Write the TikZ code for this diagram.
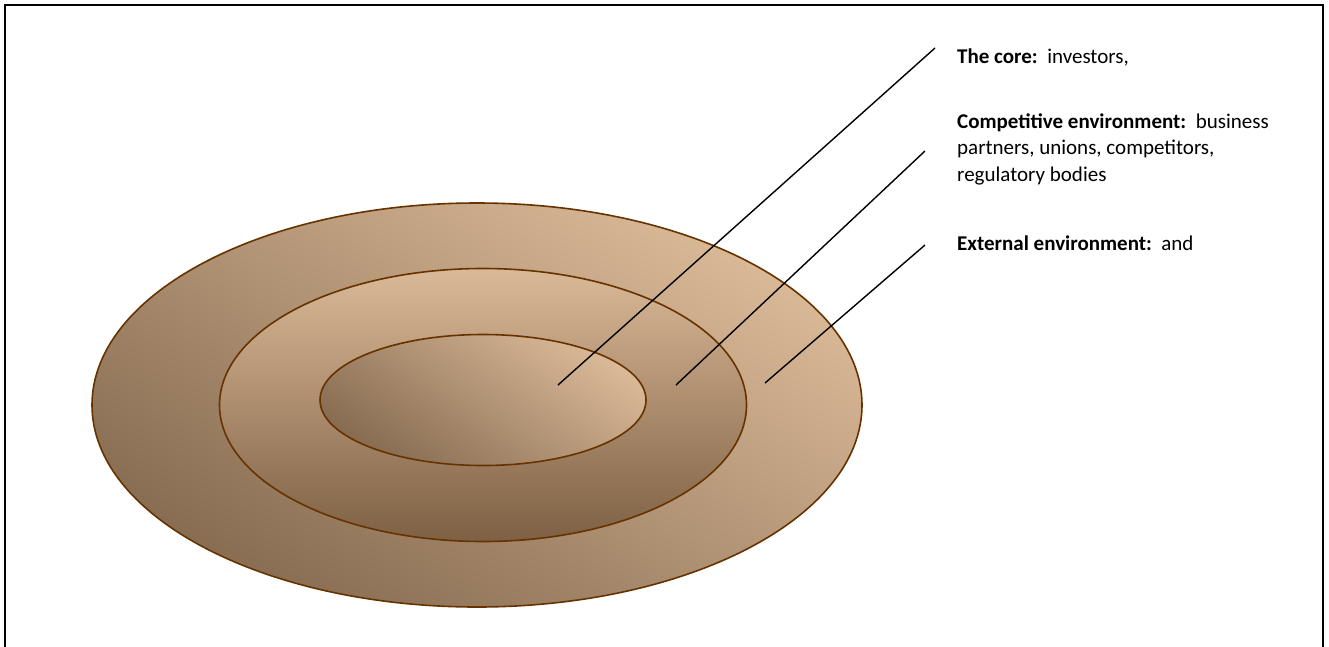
\documentclass[tikz,border=0pt]{standalone}
\usepackage{fontspec}
\setmainfont{Carlito}
\usetikzlibrary{shapes.geometric}
\definecolor{rimbrown}{RGB}{102,51,0}
\definecolor{tanlight}{RGB}{218,185,151}
\definecolor{tandark}{RGB}{135,108,82}
\definecolor{tandeep}{RGB}{126,96,68}

\begin{document}
\begin{tikzpicture}[
      x=1pt,y=-1pt,
      ring/.style={ellipse,draw=rimbrown,line width=1.6pt,inner sep=0pt},
      tagtext/.style={anchor=base west,inner sep=0pt,align=left,
                    font=\fontsize{21}{26.5}\selectfont},
      leader/.style={draw=black,line width=1.4pt}
    ]
    \useasboundingbox (0,0) rectangle (1329,646);
    \draw[line width=2pt] (5,660) -- (5,5) -- (1323,5) -- (1323,660);

    % the three rings
    \node[ring,minimum width=770,minimum height=404,
          top color=tanlight,bottom color=tandark,shading angle=-32]
          (outer) at (477,405) {};
    \node[ring,minimum width=527,minimum height=273,
          top color=tanlight,bottom color=tandeep]
          (middle) at (483,405) {};
    \node[ring,minimum width=326,minimum height=131,
          top color=tanlight,bottom color=tandark,shading angle=-35]
          (inner) at (483,400) {};

    % texts
    \node[tagtext] (core) at (957,63) {\textbf{The core:}\ \ investors,};
    \node[tagtext] (comp) at (957,181) {\textbf{Competitive environment:}\ \ business\\
      partners, unions, competitors,\\regulatory bodies};
    \node[tagtext] (ext) at (957,250) {\textbf{External environment:}\ \ and};

    \coordinate (c1) at (558,385);
    \coordinate (c2) at (676,385);
    \coordinate (c3) at (765,383);

    \draw[leader] (c1) -- ([shift={(-22,-15)}]core.base west);
    \draw[leader] (c2) -- ([shift={(-32,-30)}]comp.base west);
    \draw[leader] (c3) -- ([shift={(-32,-5)}]ext.base west);
  \end{tikzpicture}
\end{document}
